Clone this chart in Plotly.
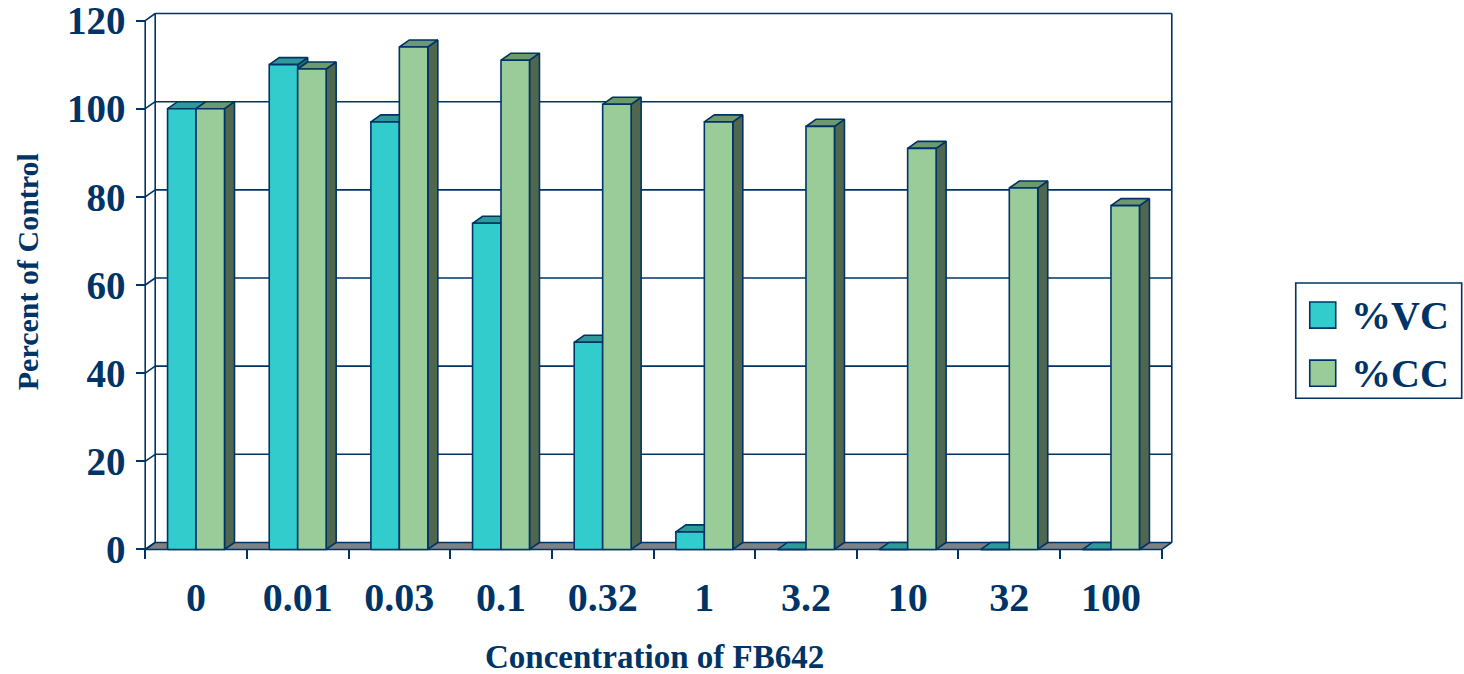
import plotly.graph_objects as go

# ---- data ----
categories = ["0", "0.01", "0.03", "0.1", "0.32", "1", "3.2", "10", "32", "100"]
vc_values = [100, 110, 97, 74, 47, 4, 0, 0, 0, 0]
cc_values = [100, 109, 114, 111, 101, 97, 96, 91, 82, 78]
series_names = ["%VC", "%CC"]
y_ticks = [0, 20, 40, 60, 80, 100, 120]

# ---- styling ----
NAVY = "#003366"
FONT = "Liberation Serif"
FACE_COLORS = {
    "%VC": {"front": "#33CCCC", "top": "#2F9999", "side": "#236B6B"},
    "%CC": {"front": "#99CC99", "top": "#6E996E", "side": "#4F664F"},
}
FLOOR = "#808080"

# ---- geometry (pixels per unit) ----
W, H = 1464, 674
X0PX, CATPX = 145.0, 101.7     # x pixel of category 0, pixels per category
Y0PX, UNITPX = 549.0, 4.4      # y pixel of value 0, pixels per value unit
DX = 10.0 / CATPX              # depth offset in category units
DY = 7.0 / UNITPX              # depth offset in value units
BAR_W = 0.28
YMAX = y_ticks[-1]
NCAT = len(categories)

xr = [-0.12, NCAT + DX + 0.12]
yr = [-0.8, YMAX + DY + 0.8]
left = X0PX + xr[0] * CATPX
right = X0PX + xr[1] * CATPX
top = Y0PX - yr[1] * UNITPX
bottom = Y0PX - yr[0] * UNITPX


def px_x(px):
    return (px - left) / (right - left)


def px_y(py):
    return (bottom - py) / (bottom - top)


def polys(poly_list):
    xs, ys = [], []
    for p in poly_list:
        for (a, b) in p + [p[0]]:
            xs.append(a)
            ys.append(b)
        xs.append(None)
        ys.append(None)
    return xs, ys


def segs(seg_list):
    xs, ys = [], []
    for (a, b), (c, d) in seg_list:
        xs += [a, c, None]
        ys += [b, d, None]
    return xs, ys


fig = go.Figure()

# floor
fx, fy = polys([[(0, 0), (NCAT, 0), (NCAT + DX, DY), (DX, DY)]])
fig.add_trace(go.Scatter(x=fx, y=fy, mode="lines", fill="toself", fillcolor=FLOOR,
                         line=dict(color=NAVY, width=1.6), hoverinfo="skip", showlegend=False))

# walls: back-wall gridlines, side diagonals, edges, front value axis
wall = []
for v in y_ticks:
    wall.append(((0, v), (DX, v + DY)))
    if 0 < v < YMAX:
        wall.append(((DX, v + DY), (NCAT + DX, v + DY)))
wall.append(((DX, DY), (DX, YMAX + DY)))
wall.append(((DX, YMAX + DY), (NCAT + DX, YMAX + DY)))
wall.append(((NCAT + DX, DY), (NCAT + DX, YMAX + DY)))
wall.append(((0, 0), (0, YMAX)))
wx, wy = segs(wall)
fig.add_trace(go.Scatter(x=wx, y=wy, mode="lines", line=dict(color=NAVY, width=1.6),
                         hoverinfo="skip", showlegend=False))

# 3-D columns: side, top and front faces per series
for s, (name, vals) in enumerate(zip(series_names, [vc_values, cc_values])):
    fronts, tops, sides = [], [], []
    for i, v in enumerate(vals):
        x0 = i + 0.5 - BAR_W + s * BAR_W
        x1 = x0 + BAR_W
        fronts.append([(x0, 0), (x1, 0), (x1, v), (x0, v)])
        tops.append([(x0, v), (x1, v), (x1 + DX, v + DY), (x0 + DX, v + DY)])
        sides.append([(x1, 0), (x1 + DX, DY), (x1 + DX, v + DY), (x1, v)])
    for face, plist in (("side", sides), ("top", tops), ("front", fronts)):
        px, py = polys(plist)
        fig.add_trace(go.Scatter(x=px, y=py, mode="lines", fill="toself",
                                 fillcolor=FACE_COLORS[name][face],
                                 line=dict(color=NAVY, width=1.6),
                                 name=name, hoverinfo="skip", showlegend=False))

x_tick_font = dict(family=FONT, size=40, color=NAVY, weight="bold")
y_tick_font = dict(family=FONT, size=39, color=NAVY, weight="bold")

fig.update_layout(
    width=W, height=H,
    margin=dict(l=left, r=W - right, t=top, b=H - bottom, pad=0, autoexpand=False),
    paper_bgcolor="white", plot_bgcolor="white",
    showlegend=False,
    xaxis=dict(
        range=xr, showgrid=False, zeroline=False, showline=False, automargin=False,
        anchor="free", position=px_y(Y0PX),
        tickmode="array",
        tickvals=[i + 0.5 for i in range(NCAT)], ticktext=categories,
        ticks="", tickfont=x_tick_font, ticklabelstandoff=21,
        ticklabeloverflow="allow",
        minor=dict(tickmode="array", tickvals=list(range(NCAT + 1)),
                   ticks="outside", ticklen=9, tickwidth=1.6, tickcolor=NAVY),
    ),
    yaxis=dict(
        range=yr, showgrid=False, zeroline=False, showline=False, automargin=False,
        anchor="free", position=px_x(X0PX),
        tickmode="array", tickvals=y_ticks, ticktext=[str(v) for v in y_ticks],
        ticks="outside", ticklen=9, tickwidth=1.6, tickcolor=NAVY,
        tickfont=y_tick_font, ticklabelstandoff=3,
        ticklabeloverflow="allow",
    ),
)

# axis titles
fig.add_annotation(text="Concentration of FB642", xref="paper", yref="paper",
                   x=px_x(654), y=px_y(656), xanchor="center", yanchor="middle",
                   showarrow=False, font=dict(family=FONT, size=33, color=NAVY, weight="bold"))
fig.add_annotation(text="Percent of Control", xref="paper", yref="paper",
                   x=px_x(28), y=px_y(272), xanchor="center", yanchor="middle", textangle=-90,
                   showarrow=False, font=dict(family=FONT, size=30, color=NAVY, weight="bold"))

# legend box
fig.add_shape(type="rect", xref="paper", yref="paper",
              x0=px_x(1296), x1=px_x(1462), y0=px_y(283), y1=px_y(398),
              line=dict(color=NAVY, width=1.6), fillcolor="white")
for name, yc in zip(series_names, [315, 373]):
    fig.add_shape(type="rect", xref="paper", yref="paper",
                  x0=px_x(1310), x1=px_x(1336), y0=px_y(yc - 13), y1=px_y(yc + 13),
                  line=dict(color=NAVY, width=1.6), fillcolor=FACE_COLORS[name]["front"])
    fig.add_annotation(text=name, xref="paper", yref="paper",
                       x=px_x(1349), y=px_y(yc), xanchor="left", yanchor="middle",
                       showarrow=False, font=dict(family=FONT, size=40, color=NAVY, weight="bold"))

fig.write_html("out.html")
